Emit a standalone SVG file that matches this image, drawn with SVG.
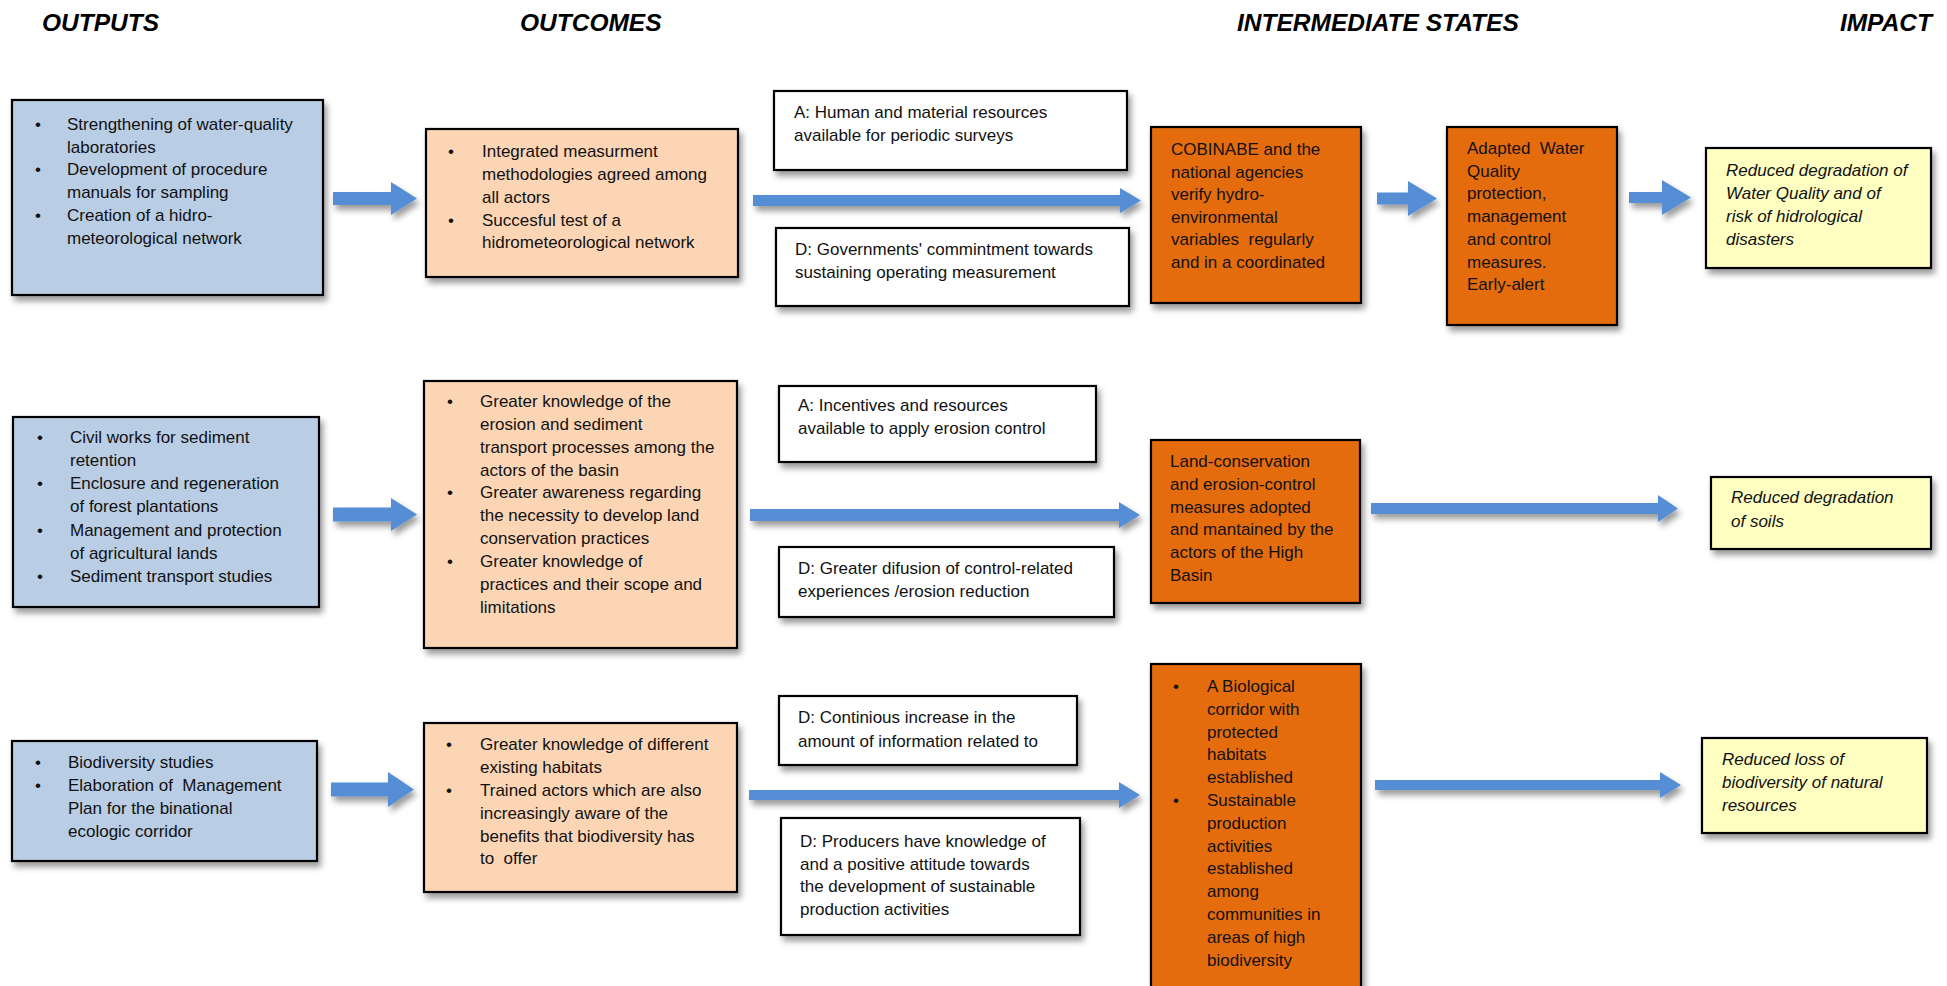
<svg xmlns="http://www.w3.org/2000/svg" width="1947" height="986" viewBox="0 0 1947 986">
<defs>
<filter id="sh" x="-10%" y="-30%" width="130%" height="180%">
<feGaussianBlur in="SourceAlpha" stdDeviation="3"/>
<feOffset dx="3" dy="5" result="o"/>
<feComponentTransfer><feFuncA type="linear" slope="0.4"/></feComponentTransfer>
<feMerge><feMergeNode/><feMergeNode in="SourceGraphic"/></feMerge>
</filter>
<style>
.hd{font-family:"Liberation Sans",Arial,sans-serif;font-size:24.5px;font-weight:bold;font-style:italic;fill:#000}
.t{font-family:"Liberation Sans",Arial,sans-serif;font-size:17px;fill:#111;white-space:pre}
.it{font-style:italic}
.box{stroke:#000;stroke-width:2.2}
.out{fill:#b9cde5}
.oc{fill:#fcd5b5}
.as{fill:#ffffff}
.is{fill:#e46c0a}
.im{fill:#ffffc2}
.arr{fill:#558ed5}
</style>
</defs>
<rect width="1947" height="986" fill="#fff"/>

<g id="headers">
<text class="hd" x="42" y="31">OUTPUTS</text>
<text class="hd" x="520" y="31">OUTCOMES</text>
<text class="hd" x="1237" y="31">INTERMEDIATE STATES</text>
<text class="hd" x="1932" y="31" text-anchor="end">IMPACT</text>
</g>

<g id="connectors" filter="url(#sh)">
<polygon class="arr" points="333,192 391,192 391,182 417,198.5 391,215 391,205 333,205"/>
<polygon class="arr" points="333,507.5 391,507.5 391,498 417,514.5 391,531 391,521.5 333,521.5"/>
<polygon class="arr" points="331,782.5 388,782.5 388,772 414,789.5 388,807 388,796.5 331,796.5"/>
<polygon class="arr" points="753,195 1120,195 1120,188 1141,200.5 1120,213 1120,206 753,206"/>
<polygon class="arr" points="750,509 1119,509 1119,502 1140,515 1119,528 1119,521 750,521"/>
<polygon class="arr" points="749,790 1119,790 1119,782 1140,795 1119,808 1119,800 749,800"/>
<polygon class="arr" points="1377,192.5 1408,192.5 1408,181 1437,198.5 1408,216 1408,204.5 1377,204.5"/>
<polygon class="arr" points="1629,192 1662,192 1662,180 1691,197.5 1662,215 1662,203 1629,203"/>
<polygon class="arr" points="1371,503 1658,503 1658,495 1678,508.5 1658,522 1658,514 1371,514"/>
<polygon class="arr" points="1375,780 1660,780 1660,772 1681,785 1660,798 1660,790 1375,790"/>
</g>

<g id="output1">
<rect class="box out" x="12" y="100" width="311" height="195" filter="url(#sh)"/>
<text class="t"><tspan x="35" y="130">•</tspan><tspan x="67" y="130">Strengthening of water-quality</tspan><tspan x="67" y="152.7">laboratories</tspan><tspan x="35" y="175.4">•</tspan><tspan x="67" y="175.4">Development of procedure</tspan><tspan x="67" y="198.1">manuals for sampling</tspan><tspan x="35" y="220.8">•</tspan><tspan x="67" y="220.8">Creation of a hidro-</tspan><tspan x="67" y="243.5">meteorological network</tspan></text>
</g>

<g id="outcome1">
<rect class="box oc" x="426" y="129" width="312" height="148" filter="url(#sh)"/>
<text class="t"><tspan x="448" y="157">•</tspan><tspan x="482" y="157">Integrated measurment</tspan><tspan x="482" y="180">methodologies agreed among</tspan><tspan x="482" y="202.5">all actors</tspan><tspan x="448" y="225.5">•</tspan><tspan x="482" y="225.5">Succesful test of a</tspan><tspan x="482" y="248">hidrometeorological network</tspan></text>
</g>

<g id="assumption1">
<rect class="box as" x="774" y="91" width="353" height="79" filter="url(#sh)"/>
<text class="t"><tspan x="794" y="118">A: Human and material resources</tspan><tspan x="794" y="141">available for periodic surveys</tspan></text>
</g>

<g id="driver1">
<rect class="box as" x="776" y="228" width="353" height="78" filter="url(#sh)"/>
<text class="t"><tspan x="795" y="255">D: Governments' commintment towards</tspan><tspan x="795" y="278">sustaining operating measurement</tspan></text>
</g>

<g id="state1">
<rect class="box is" x="1151" y="127" width="210" height="176" filter="url(#sh)"/>
<text class="t"><tspan x="1171" y="155">COBINABE and the</tspan><tspan x="1171" y="177.6">national agencies</tspan><tspan x="1171" y="200.2">verify hydro-</tspan><tspan x="1171" y="222.8">environmental</tspan><tspan x="1171" y="245.4">variables  regularly</tspan><tspan x="1171" y="268">and in a coordinated</tspan></text>
</g>

<g id="state2">
<rect class="box is" x="1447" y="127" width="170" height="198" filter="url(#sh)"/>
<text class="t"><tspan x="1467" y="154">Adapted  Water</tspan><tspan x="1467" y="176.7">Quality</tspan><tspan x="1467" y="199.4">protection,</tspan><tspan x="1467" y="222.1">management</tspan><tspan x="1467" y="244.8">and control</tspan><tspan x="1467" y="267.5">measures.</tspan><tspan x="1467" y="290.2">Early-alert</tspan></text>
</g>

<g id="impact1">
<rect class="box im" x="1706" y="148" width="225" height="120" filter="url(#sh)"/>
<text class="t it"><tspan x="1726" y="176">Reduced degradation of</tspan><tspan x="1726" y="199">Water Quality and of</tspan><tspan x="1726" y="222">risk of hidrological</tspan><tspan x="1726" y="245">disasters</tspan></text>
</g>

<g id="output2">
<rect class="box out" x="13" y="417" width="306" height="190" filter="url(#sh)"/>
<text class="t"><tspan x="37" y="443">•</tspan><tspan x="70" y="443">Civil works for sediment</tspan><tspan x="70" y="466">retention</tspan><tspan x="37" y="489">•</tspan><tspan x="70" y="489">Enclosure and regeneration</tspan><tspan x="70" y="512">of forest plantations</tspan><tspan x="37" y="535.5">•</tspan><tspan x="70" y="535.5">Management and protection</tspan><tspan x="70" y="558.5">of agricultural lands</tspan><tspan x="37" y="581.5">•</tspan><tspan x="70" y="581.5">Sediment transport studies</tspan></text>
</g>

<g id="outcome2">
<rect class="box oc" x="424" y="381" width="313" height="267" filter="url(#sh)"/>
<text class="t"><tspan x="447" y="407">•</tspan><tspan x="480" y="407">Greater knowledge of the</tspan><tspan x="480" y="430">erosion and sediment</tspan><tspan x="480" y="452.7">transport processes among the</tspan><tspan x="480" y="475.5">actors of the basin</tspan><tspan x="447" y="498.3">•</tspan><tspan x="480" y="498.3">Greater awareness regarding</tspan><tspan x="480" y="521.2">the necessity to develop land</tspan><tspan x="480" y="544">conservation practices</tspan><tspan x="447" y="567">•</tspan><tspan x="480" y="567">Greater knowledge of</tspan><tspan x="480" y="590">practices and their scope and</tspan><tspan x="480" y="613">limitations</tspan></text>
</g>

<g id="assumption2">
<rect class="box as" x="779" y="386" width="317" height="76" filter="url(#sh)"/>
<text class="t"><tspan x="798" y="411">A: Incentives and resources</tspan><tspan x="798" y="434">available to apply erosion control</tspan></text>
</g>

<g id="driver2">
<rect class="box as" x="779" y="547" width="335" height="70" filter="url(#sh)"/>
<text class="t"><tspan x="798" y="574">D: Greater difusion of control-related</tspan><tspan x="798" y="597">experiences /erosion reduction</tspan></text>
</g>

<g id="state3">
<rect class="box is" x="1151" y="440" width="209" height="163" filter="url(#sh)"/>
<text class="t"><tspan x="1170" y="467">Land-conservation</tspan><tspan x="1170" y="489.8">and erosion-control</tspan><tspan x="1170" y="512.6">measures adopted</tspan><tspan x="1170" y="535.4">and mantained by the</tspan><tspan x="1170" y="558.2">actors of the High</tspan><tspan x="1170" y="581">Basin</tspan></text>
</g>

<g id="impact2">
<rect class="box im" x="1711" y="477" width="220" height="72" filter="url(#sh)"/>
<text class="t it"><tspan x="1731" y="503">Reduced degradation</tspan><tspan x="1731" y="527">of soils</tspan></text>
</g>

<g id="output3">
<rect class="box out" x="12" y="741" width="305" height="120" filter="url(#sh)"/>
<text class="t"><tspan x="35" y="768">•</tspan><tspan x="68" y="768">Biodiversity studies</tspan><tspan x="35" y="791">•</tspan><tspan x="68" y="791">Elaboration of  Management</tspan><tspan x="68" y="814">Plan for the binational</tspan><tspan x="68" y="837">ecologic corridor</tspan></text>
</g>

<g id="outcome3">
<rect class="box oc" x="424" y="723" width="313" height="169" filter="url(#sh)"/>
<text class="t"><tspan x="446" y="750">•</tspan><tspan x="480" y="750">Greater knowledge of different</tspan><tspan x="480" y="773">existing habitats</tspan><tspan x="446" y="796">•</tspan><tspan x="480" y="796">Trained actors which are also</tspan><tspan x="480" y="818.7">increasingly aware of the</tspan><tspan x="480" y="841.5">benefits that biodiversity has</tspan><tspan x="480" y="864.3">to  offer</tspan></text>
</g>

<g id="driver3a">
<rect class="box as" x="779" y="696" width="298" height="69" filter="url(#sh)"/>
<text class="t"><tspan x="798" y="723">D: Continious increase in the</tspan><tspan x="798" y="747">amount of information related to</tspan></text>
</g>

<g id="driver3b">
<rect class="box as" x="781" y="818" width="299" height="117" filter="url(#sh)"/>
<text class="t"><tspan x="800" y="847">D: Producers have knowledge of</tspan><tspan x="800" y="869.5">and a positive attitude towards</tspan><tspan x="800" y="892">the development of sustainable</tspan><tspan x="800" y="914.5">production activities</tspan></text>
</g>

<g id="state4">
<rect class="box is" x="1151" y="664" width="210" height="345" filter="url(#sh)"/>
<text class="t"><tspan x="1173" y="692">•</tspan><tspan x="1207" y="692">A Biological</tspan><tspan x="1207" y="714.8">corridor with</tspan><tspan x="1207" y="737.6">protected</tspan><tspan x="1207" y="760.4">habitats</tspan><tspan x="1207" y="783.2">established</tspan><tspan x="1173" y="806">•</tspan><tspan x="1207" y="806">Sustainable</tspan><tspan x="1207" y="828.8">production</tspan><tspan x="1207" y="851.6">activities</tspan><tspan x="1207" y="874.4">established</tspan><tspan x="1207" y="897.2">among</tspan><tspan x="1207" y="920">communities in</tspan><tspan x="1207" y="942.8">areas of high</tspan><tspan x="1207" y="965.6">biodiversity</tspan></text>
</g>

<g id="impact3">
<rect class="box im" x="1702" y="738" width="225" height="95" filter="url(#sh)"/>
<text class="t it"><tspan x="1722" y="765">Reduced loss of</tspan><tspan x="1722" y="788">biodiversity of natural</tspan><tspan x="1722" y="811">resources</tspan></text>
</g>
</svg>
